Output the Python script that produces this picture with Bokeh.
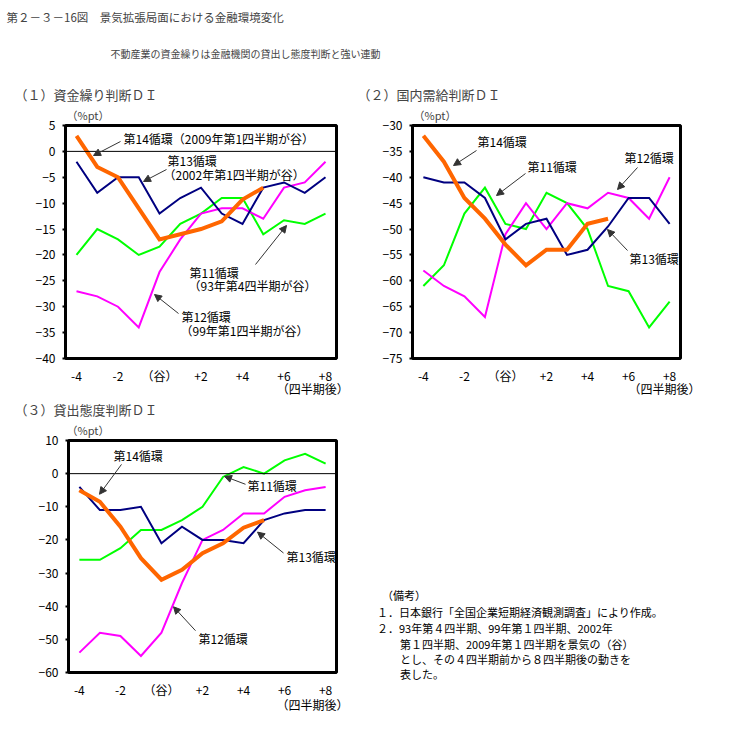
from bokeh.plotting import figure
from bokeh.models import (Range1d, FixedTicker, Label, Arrow, NormalHead, Span,
                          Title, LinearAxis, Div)
from bokeh.layouts import column, row
from bokeh.embed import file_html
from bokeh.resources import INLINE

FONT = "Noto Sans CJK JP"

# ---------------- data ----------------
quarters = [-4, -3, -2, -1, 0, 1, 2, 3, 4, 5, 6, 7, 8]
x_ticks = [-4, -2, 0, 2, 4, 6, 8]
x_tick_labels = ["-4", "-2", "（谷）", "+2", "+4", "+6", "+8"]

# (1) 資金繰り判断DI
cf_c11 = [-20, -15, -17, -20, -18.4, -14, -12, -9, -9, -16, -13.3, -14, -12]
cf_c12 = [-27, -28, -30, -34, -23.3, -17, -12, -11, -11, -13, -7, -6, -2]
cf_c13 = [-2, -8, -5, -5, -12, -9, -7, -12, -14, -7, -6, -8, -5]
cf_c14 = [3, -3, -5, -11, -17, -16, -15, -13.5, -9.3, -7]

# (2) 国内需給判断DI
dd_c11 = [-61, -57, -47, -42, -49, -50, -43, -45, -50, -61, -62, -69, -64]
dd_c12 = [-58, -61, -63, -67, -51, -45, -50, -45, -46, -43, -44, -48, -40]
dd_c13 = [-40, -41, -41, -44, -52, -49, -48, -55, -54, -49.5, -44, -44, -49]
dd_c14 = [-32, -37, -44, -48, -53, -57, -54, -54, -49, -48]

# (3) 貸出態度判断DI
ls_c11 = [-26, -26, -22.5, -17, -17, -14, -10, -1, 2, 0, 4, 6, 3]
ls_c12 = [-54, -48, -49, -55, -48, -33, -20, -17, -12, -12, -7, -5, -4]
ls_c13 = [-4, -11, -11, -10, -21, -16, -20, -20, -21, -14, -12, -11, -11]
ls_c14 = [-5, -8.5, -16, -25.5, -32, -29, -24, -21, -16.3, -14]

C11, C12, C13, C14 = "#00FF00", "#FF00FF", "#000080", "#FF6600"
series_order = [(0, C11, 2), (1, C12, 2), (2, C13, 2), (3, C14, 4)]

XR = (-4.53, 8.53)
Q_POS = 7.75  # centre of the "（四半期後）" caption on the x scale


def make_panel(width, height, fl, ft, fw, fh, xr, yr, yticks, series,
               title, title_off, unit_off, zero=True, q_standoff=-7):
    p = figure(width=width, height=height, output_backend="svg",
               toolbar_location=None,
               x_range=Range1d(*xr), y_range=Range1d(*yr),
               min_border_left=fl, min_border_top=ft,
               min_border_right=width - fl - fw,
               min_border_bottom=height - ft - fh)
    p.xgrid.visible = False
    p.ygrid.visible = False
    p.outline_line_color = "black"
    p.outline_line_width = 3
    p.background_fill_color = "white"
    p.border_fill_color = "white"

    p.title.text = title
    p.title.align = "left"
    p.title.offset = title_off
    p.title.standoff = -3
    p.title.text_font = FONT
    p.title.text_font_size = "13px"
    p.title.text_font_style = "normal"
    p.add_layout(Title(text="（%pt）", align="left", offset=unit_off, standoff=5,
                       text_font=FONT, text_font_size="11px",
                       text_font_style="normal"), "above")

    p.xaxis.ticker = FixedTicker(ticks=x_ticks)
    p.xaxis.major_label_overrides = {t: s for t, s in zip(x_ticks, x_tick_labels)}
    p.yaxis.ticker = FixedTicker(ticks=yticks)
    for ax in (p.xaxis[0], p.yaxis[0]):
        ax.axis_line_color = None
        ax.minor_tick_line_color = None
        ax.major_label_text_font = FONT
        ax.major_label_text_font_size = "12px"
        ax.major_label_text_color = "black"
        ax.major_tick_in = 0
    p.xaxis.major_tick_line_color = None
    p.xaxis.major_tick_out = 0
    p.xaxis.major_label_standoff = 8
    p.yaxis.major_tick_out = 3
    p.yaxis.major_tick_line_color = "black"
    p.yaxis.major_tick_line_width = 2
    p.yaxis.major_label_standoff = 7

    qa = LinearAxis(ticker=FixedTicker(ticks=[Q_POS]),
                    major_label_overrides={Q_POS: "（四半期後）"},
                    axis_line_color=None, major_tick_line_color=None,
                    minor_tick_line_color=None, major_tick_out=0, major_tick_in=0,
                    major_label_standoff=q_standoff, major_label_text_font=FONT,
                    major_label_text_font_size="12px",
                    major_label_text_color="black")
    p.add_layout(qa, "below")

    if zero:
        p.add_layout(Span(location=0, dimension="width",
                          line_color="black", line_width=1))
    for idx, col, lw in series_order:
        ys = series[idx]
        p.line(quarters[:len(ys)], ys, line_color=col, line_width=lw,
               line_join="miter")
    return p


def conv_factory(page_left, page_top, fw, fh, xr, yr):
    def conv(px, py):
        x = xr[0] + (px - page_left) / fw * (xr[1] - xr[0])
        y = yr[1] - (py - page_top) / fh * (yr[1] - yr[0])
        return x, y
    return conv


def add_text(p, conv, px, py, text, size="12px", align="left"):
    x, y = conv(px, py)
    p.add_layout(Label(x=x, y=y, text=text, text_font=FONT,
                       text_font_size=size, text_color="black",
                       text_align=align, text_baseline="middle"))


def add_arrow(p, conv, p0, p1):
    x0, y0 = conv(*p0)
    x1, y1 = conv(*p1)
    p.add_layout(Arrow(x_start=x0, y_start=y0, x_end=x1, y_end=y1,
                       line_color="#333333", line_width=1,
                       end=NormalHead(size=7, fill_color="#333333",
                                      line_color="#333333")))


# ---------------- header ----------------
header = figure(width=731, height=80, output_backend="svg", toolbar_location=None,
                x_range=Range1d(0, 731), y_range=Range1d(80, 0),
                min_border=0)
header.axis.visible = False
header.grid.visible = False
header.outline_line_color = None
header.add_layout(Label(x=6, y=16, text="第２－３－16図　景気拡張局面における金融環境変化",
                        text_font=FONT, text_font_size="11.5px",
                        text_baseline="middle", text_align="left"))
header.add_layout(Label(x=110, y=53, text="不動産業の資金繰りは金融機関の貸出し態度判断と強い連動",
                        text_font=FONT, text_font_size="10px",
                        text_baseline="middle", text_align="left"))

# ---------------- panel 1 ----------------
p1 = make_panel(352, 319, 65, 45, 271, 233, XR, (-40, 5),
                list(range(-40, 6, 5)), [cf_c11, cf_c12, cf_c13, cf_c14],
                "（１）資金繰り判断ＤＩ", -51, 1)
c1 = conv_factory(65, 125, 271, 233, XR, (-40, 5))
add_text(p1, c1, 123, 138, "第14循環（2009年第1四半期が谷）")
add_arrow(p1, c1, (120, 141), (93, 155))
add_text(p1, c1, 167, 160, "第13循環")
add_text(p1, c1, 163, 174, "（2002年第1四半期が谷）")
add_arrow(p1, c1, (166, 169), (143, 181))
add_text(p1, c1, 189, 272, "第11循環")
add_text(p1, c1, 188, 285, "（93年第4四半期が谷）")
add_arrow(p1, c1, (255, 264), (286, 225))
add_text(p1, c1, 181, 316, "第12循環")
add_text(p1, c1, 180, 330, "（99年第1四半期が谷）")
add_arrow(p1, c1, (178, 313), (154, 294))

# ---------------- panel 2 ----------------
p2 = make_panel(379, 319, 60, 45, 268, 233, XR, (-75, -30),
                list(range(-75, -29, 5)), [dd_c11, dd_c12, dd_c13, dd_c14],
                "（２）国内需給判断ＤＩ", -55, 1, zero=False)
c2 = conv_factory(412, 125, 268, 233, XR, (-75, -30))
add_text(p2, c2, 477, 141, "第14循環")
add_arrow(p2, c2, (476, 150), (453, 165))
add_text(p2, c2, 527, 166, "第11循環")
add_arrow(p2, c2, (525, 173), (496, 195))
add_text(p2, c2, 624, 157, "第12循環")
add_arrow(p2, c2, (637, 167), (617, 189))
add_text(p2, c2, 629, 258, "第13循環")
add_arrow(p2, c2, (627, 250), (607, 229))

# ---------------- panel 3 ----------------
p3 = make_panel(352, 330, 68, 40, 268, 233, XR, (-60, 10),
                list(range(-60, 11, 10)), [ls_c11, ls_c12, ls_c13, ls_c14],
                "（３）貸出態度判断ＤＩ", -54, -2, q_standoff=-5)
c3 = conv_factory(68, 439, 268, 233, XR, (-60, 10))
add_text(p3, c3, 113, 454, "第14循環")
add_arrow(p3, c3, (121, 463), (99, 493))
add_text(p3, c3, 247, 484, "第11循環")
add_arrow(p3, c3, (245, 483), (224, 475))
add_text(p3, c3, 286, 555, "第13循環")
add_arrow(p3, c3, (283, 552), (257, 531))
add_text(p3, c3, 198, 638, "第12循環")
add_arrow(p3, c3, (195, 630), (173, 606))

# ---------------- notes ----------------
NOTES_LEFT, NOTES_TOP = 352, 399
note_lines = [
    (377, 595, "（備考）"),
    (372, 612, "１．日本銀行「全国企業短期経済観測調査」により作成。"),
    (372, 628, "２．93年第４四半期、99年第１四半期、2002年"),
    (395, 644, "第１四半期、2009年第１四半期を景気の（谷）"),
    (395, 659, "とし、その４四半期前から８四半期後の動きを"),
    (395, 674, "表した。"),
]
inner = "".join(
    f'<div style="position:absolute;left:{x - NOTES_LEFT}px;top:{y - NOTES_TOP - 11}px;'
    f'line-height:12px;white-space:nowrap;">{t}</div>'
    for x, y, t in note_lines)
notes = Div(text=f'<div style="position:relative;width:379px;height:330px;'
                 f'font-family:\'{FONT}\';font-size:11px;color:black;">{inner}</div>',
            width=379, height=330)

layout = column(header, row(p1, p2), row(p3, notes))
open("out.html", "w").write(file_html(layout, INLINE))
